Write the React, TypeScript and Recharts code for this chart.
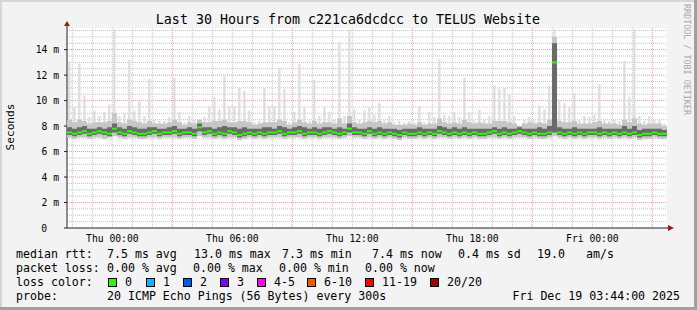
import React from 'react';
import { ComposedChart, Area, Bar, Scatter, XAxis, YAxis, CartesianGrid } from 'recharts';

// one bin = 15 minutes, starting Wed 21:44, 120 bins = 30 hours
const maxMs = [
  13.0, 9.5, 12.9, 10.4, 8.7, 9.2, 8.8, 9.1, 9.7, 15.6, 8.8, 9.0, 13.2, 9.2, 10.0, 8.8, 11.7, 8.5, 8.4, 8.4, 8.7, 11.8, 9.1, 8.3, 8.8, 8.5, 8.4, 8.7, 9.6, 10.3,
  9.3, 11.9, 9.6, 9.6, 11.0, 10.8, 9.2, 8.3, 8.4, 11.0, 9.6, 9.6, 12.6, 10.9, 8.3, 9.1, 12.9, 9.5, 8.4, 11.6, 8.8, 9.5, 9.1, 8.5, 14.6, 8.8, 15.6, 9.3, 8.5, 9.2,
  9.5, 8.9, 9.8, 8.5, 8.8, 8.3, 8.4, 8.3, 8.4, 8.3, 9.6, 8.3, 9.1, 8.7, 13.25, 8.9, 8.8, 9.1, 8.7, 11.8, 9.1, 8.4, 9.3, 8.5, 8.8, 11.2, 10.9, 11.0, 10.5, 8.8,
  8.0, 8.5, 8.7, 8.4, 9.6, 9.3, 11.2, 15.6, 10.1, 9.8, 9.5, 10.6, 8.5, 8.8, 8.7, 8.9, 11.3, 8.5, 8.4, 8.5, 8.4, 13.1, 10.3, 15.6, 8.8, 8.4, 8.8, 8.5, 8.5, 8.2,
];
const smokeHiMs = [
  8.5, 8.3, 8.5, 8.4, 8.2, 8.3, 8.3, 8.3, 8.4, 9.0, 8.3, 8.2, 8.5, 8.4, 8.3, 8.2, 8.4, 8.2, 8.2, 8.2, 8.3, 8.5, 8.3, 8.1, 8.3, 8.2, 8.5, 8.3, 8.3, 8.4,
  8.4, 8.5, 8.3, 8.3, 8.4, 8.4, 8.3, 8.1, 8.2, 8.3, 8.3, 8.3, 8.5, 8.4, 8.1, 8.3, 8.5, 8.3, 8.2, 8.4, 8.2, 8.3, 8.3, 8.2, 8.6, 8.2, 8.8, 8.3, 8.2, 8.3,
  8.4, 8.3, 8.4, 8.2, 8.3, 8.1, 8.1, 8.1, 8.2, 8.1, 8.3, 8.1, 8.2, 8.2, 8.6, 8.3, 8.2, 8.3, 8.2, 8.5, 8.3, 8.2, 8.3, 8.2, 8.2, 8.4, 8.4, 8.4, 8.3, 8.2,
  8.0, 8.2, 8.3, 8.2, 8.3, 8.2, 8.5, 15.0, 8.4, 8.3, 8.3, 8.4, 8.2, 8.2, 8.2, 8.3, 8.4, 8.2, 8.2, 8.2, 8.1, 8.5, 8.3, 8.6, 8.2, 8.1, 8.2, 8.2, 8.2, 8.0,
];
const coreHiMs = [
  7.9, 7.8, 7.9, 8.0, 7.8, 7.8, 7.9, 7.8, 7.9, 8.2, 7.9, 7.8, 8.0, 7.9, 7.8, 7.8, 7.9, 7.9, 7.8, 7.8, 7.9, 8.0, 7.8, 7.8, 7.9, 7.8, 8.2, 7.9, 7.9, 7.8,
  7.9, 8.0, 7.9, 7.9, 7.8, 7.9, 7.8, 7.8, 7.8, 7.9, 7.9, 7.8, 8.0, 7.9, 7.8, 7.9, 8.0, 7.9, 7.8, 7.9, 7.8, 7.9, 7.9, 7.8, 7.9, 7.8, 8.2, 7.9, 7.8, 7.8,
  7.9, 7.8, 7.9, 7.8, 7.8, 7.8, 7.7, 7.8, 7.8, 7.8, 7.9, 7.8, 7.8, 7.8, 8.0, 7.9, 7.8, 7.9, 7.8, 7.9, 7.8, 7.8, 7.8, 7.8, 7.8, 7.9, 7.8, 7.9, 7.8, 7.8,
  7.9, 7.8, 7.8, 7.8, 7.9, 7.8, 8.0, 14.5, 7.9, 7.8, 7.8, 7.9, 7.8, 7.8, 7.8, 7.8, 7.9, 7.8, 7.8, 7.8, 7.8, 8.0, 7.8, 8.0, 7.7, 7.8, 7.8, 7.8, 7.8, 7.7,
];
const medianMs = [
  7.5, 7.4, 7.5, 7.6, 7.4, 7.5, 7.6, 7.5, 7.4, 7.8, 7.5, 7.4, 7.6, 7.5, 7.4, 7.4, 7.5, 7.6, 7.4, 7.5, 7.5, 7.6, 7.4, 7.5, 7.5, 7.4, 7.9, 7.5, 7.6, 7.4,
  7.5, 7.4, 7.6, 7.5, 7.3, 7.4, 7.5, 7.4, 7.5, 7.4, 7.5, 7.5, 7.6, 7.4, 7.5, 7.5, 7.6, 7.4, 7.5, 7.5, 7.4, 7.5, 7.6, 7.5, 7.4, 7.5, 7.8, 7.5, 7.5, 7.4,
  7.6, 7.4, 7.5, 7.4, 7.5, 7.4, 7.3, 7.5, 7.4, 7.4, 7.5, 7.4, 7.5, 7.4, 7.6, 7.5, 7.4, 7.5, 7.4, 7.5, 7.4, 7.5, 7.4, 7.4, 7.5, 7.6, 7.4, 7.5, 7.4, 7.5,
  7.6, 7.5, 7.4, 7.5, 7.4, 7.4, 7.5, 13.0, 7.5, 7.4, 7.5, 7.4, 7.5, 7.4, 7.5, 7.5, 7.4, 7.5, 7.4, 7.5, 7.4, 7.5, 7.4, 7.5, 7.3, 7.4, 7.4, 7.5, 7.4, 7.4,
];
const coreLoMs = [
  7.3, 7.2, 7.3, 7.4, 7.2, 7.3, 7.4, 7.3, 7.2, 7.5, 7.3, 7.2, 7.4, 7.3, 7.2, 7.2, 7.3, 7.4, 7.2, 7.3, 7.3, 7.4, 7.2, 7.3, 7.3, 7.2, 7.6, 7.3, 7.4, 7.2,
  7.3, 7.2, 7.4, 7.3, 7.1, 7.2, 7.3, 7.2, 7.3, 7.2, 7.3, 7.3, 7.4, 7.2, 7.3, 7.3, 7.4, 7.2, 7.3, 7.3, 7.2, 7.3, 7.4, 7.3, 7.2, 7.3, 7.5, 7.3, 7.3, 7.2,
  7.4, 7.2, 7.3, 7.2, 7.3, 7.2, 7.1, 7.3, 7.2, 7.2, 7.3, 7.2, 7.3, 7.2, 7.4, 7.3, 7.2, 7.3, 7.2, 7.3, 7.2, 7.3, 7.2, 7.2, 7.3, 7.4, 7.2, 7.3, 7.2, 7.3,
  7.4, 7.3, 7.2, 7.3, 7.2, 7.2, 7.3, 7.5, 7.3, 7.2, 7.3, 7.2, 7.3, 7.2, 7.3, 7.3, 7.2, 7.3, 7.2, 7.3, 7.2, 7.3, 7.2, 7.3, 7.1, 7.2, 7.2, 7.3, 7.2, 7.2,
];
const minMs = [
  7.1, 7.0, 7.1, 7.1, 7.0, 7.1, 7.1, 7.0, 7.1, 7.2, 7.1, 7.0, 7.1, 7.1, 7.0, 7.0, 7.1, 7.1, 7.0, 7.1, 7.1, 7.1, 7.0, 7.1, 7.1, 7.0, 7.2, 7.1, 7.1, 7.0,
  7.1, 7.0, 7.1, 7.1, 6.9, 7.0, 7.1, 7.0, 7.1, 7.0, 7.1, 7.1, 7.1, 7.0, 7.1, 7.1, 7.1, 7.0, 7.1, 7.1, 7.0, 7.1, 7.1, 7.1, 7.0, 7.1, 7.2, 7.1, 7.1, 7.0,
  7.1, 7.0, 7.1, 7.0, 7.1, 7.0, 6.9, 7.1, 7.0, 7.0, 7.1, 7.0, 7.1, 7.0, 7.1, 7.1, 7.0, 7.1, 7.0, 7.1, 7.0, 7.1, 7.0, 7.0, 7.1, 7.1, 7.0, 7.1, 7.0, 7.1,
  7.1, 7.1, 7.0, 7.1, 7.0, 7.0, 7.1, 7.2, 7.1, 7.0, 7.1, 7.0, 7.1, 7.0, 7.1, 7.1, 7.0, 7.1, 7.0, 7.1, 7.0, 7.1, 7.0, 7.1, 6.9, 7.0, 7.0, 7.1, 7.0, 7.0,
];

const xTickLabels = ['Thu 00:00', 'Thu 06:00', 'Thu 12:00', 'Thu 18:00', 'Fri 00:00'];
const yTicks = [0, 2, 4, 6, 8, 10, 12, 14];

const lossLabels = ['0', '1', '2', '3', '4-5', '6-10', '11-19', '20/20'];
const lossColors = ['#26ff00', '#00b8ff', '#0059ff', '#7e00ff', '#ff00ff', '#ff5500', '#ff0000', '#a10000'];

const W = 697;
const H = 310;
const PLOT_LEFT = 67;
const PLOT_TOP = 28;
const PLOT_RIGHT = 667;
const PLOT_BOTTOM = 228;
const Y_MAX = 15.7;
const BIN_H = 0.25;
const BIN_PX = 5;
const FONT = '"DejaVu Sans Mono", "Liberation Mono", monospace';

// start of graph is Wed 21:44, so full hours sit 16 minutes in
const FIRST_HOUR = 16 / 60;
const xTickHours = [2, 8, 14, 20, 26].map((h) => h + FIRST_HOUR);
const hourLines = Array.from({ length: 30 }, (_, k) => k + FIRST_HOUR);
const xMajor = hourLines.filter((_, k) => k % 6 === 5);
const xMinor = hourLines.filter((_, k) => k % 6 !== 5);
const yAll = Array.from({ length: 31 }, (_, k) => k * 0.5 + 0.5);
const yMajor = yAll.filter((v) => v % 2 === 0);
const yMinor = yAll.filter((v) => v % 2 !== 0);

const binRows = maxMs.map((_, i) => ({
  t: i * BIN_H + BIN_H / 2,
  light: [minMs[i], maxMs[i]] as number[] | null,
  smoke: [minMs[i], smokeHiMs[i]],
  core: [coreLoMs[i], coreHiMs[i]],
  median: medianMs[i] as number | null,
}));
// edge rows so the step areas reach both ends of the plot
const first = binRows[0];
const last = binRows[binRows.length - 1];
const rows = [
  { ...first, t: 0, light: null, median: null },
  ...binRows,
  { ...last, t: 30, light: null, median: null },
];

const chartMargin = { top: PLOT_TOP, right: W - PLOT_RIGHT, bottom: 52, left: PLOT_LEFT - 60 };
const overMargin = { top: PLOT_TOP, right: W - PLOT_RIGHT, bottom: H - PLOT_BOTTOM, left: PLOT_LEFT };

const YTick = ({ y, payload }: any) => {
  const v = payload.value;
  return (
    <g>
      <line x1={PLOT_LEFT - 3} x2={PLOT_LEFT} y1={y} y2={y} stroke="#222" />
      <text
        x={v === 0 ? PLOT_LEFT - 20 : PLOT_LEFT - 8}
        y={y + 3.5}
        textAnchor="end"
        fontFamily={FONT}
        fontSize={9.7}
        fill="#000"
      >
        {v === 0 ? '0' : `${v} m`}
      </text>
    </g>
  );
};

const XTick = ({ x, payload }: any) => {
  const idx = xTickHours.findIndex((h) => Math.abs(h - payload.value) < 0.01);
  return (
    <text x={x} y={241.5} textAnchor="middle" fontFamily={FONT} fontSize={9.7} fill="#000">
      {xTickLabels[idx]}
    </text>
  );
};

// smokeping draws the median as a short flat dash per step
const MedianDash = (props: any) => {
  const { cx, cy } = props;
  if (cx == null || cy == null || props.payload?.median == null) return <g />;
  return <rect x={cx - BIN_PX / 2} y={cy - 1} width={BIN_PX} height={2} fill="#26ff00" />;
};

const legendText = (x: number, y: number, s: string, anchor = 'start') => (
  <text key={`${x}-${y}`} x={x} y={y} textAnchor={anchor as any} fontFamily={FONT} fontSize={11.6} fill="#000">
    {s}
  </text>
);

const swatchX = [108, 146, 183, 220, 257, 307, 365, 430];

export default function App() {
  return (
    <div style={{ position: 'absolute', left: 0, top: 0, width: W, height: H, background: '#f3f3f3' }}>
      {/* bottom layer: canvas, grid, axes and the outer smoke spikes */}
      <ComposedChart width={W} height={H} data={rows} margin={chartMargin}>
        <CartesianGrid
          fill="#ffffff"
          stroke="#c4c4c4"
          strokeDasharray="1 1"
          horizontalValues={yMinor}
          verticalValues={xMinor}
        />
        <CartesianGrid
          stroke="#f09a9a"
          strokeDasharray="1 1"
          horizontalValues={yMajor}
          verticalValues={xMajor}
        />
        <XAxis
          dataKey="t"
          type="number"
          domain={[0, 30]}
          ticks={xTickHours}
          interval={0}
          height={30}
          allowDataOverflow
          axisLine={{ stroke: '#222' }}
          tickLine={false}
          tick={XTick}
        />
        <YAxis
          type="number"
          domain={[0, Y_MAX]}
          ticks={yTicks}
          interval={0}
          width={60}
          allowDataOverflow
          axisLine={{ stroke: '#222' }}
          tickLine={false}
          tick={YTick}
        />
        <Bar dataKey="light" barSize={3} fill="#dddddd" isAnimationActive={false} />
      </ComposedChart>

      {/* top layer: inner smoke and median, same scales */}
      <div style={{ position: 'absolute', left: 0, top: 0 }}>
        <ComposedChart width={W} height={H} data={rows} margin={overMargin}>
          <XAxis dataKey="t" type="number" domain={[0, 30]} hide allowDataOverflow />
          <YAxis type="number" domain={[0, Y_MAX]} hide allowDataOverflow />
          <Area type="step" dataKey="smoke" stroke="none" fill="#c6c6c6" fillOpacity={1} isAnimationActive={false} dot={false} activeDot={false} />
          <Area type="step" dataKey="core" stroke="none" fill="#6a6a6a" fillOpacity={1} isAnimationActive={false} dot={false} activeDot={false} />
          <Scatter dataKey="median" shape={MedianDash} isAnimationActive={false} />
        </ComposedChart>
      </div>

      <svg width={W} height={H} style={{ position: 'absolute', left: 0, top: 0, pointerEvents: 'none' }}>
        {/* frame */}
        <rect x={0} y={0} width={W} height={2} fill="#d6d6d6" />
        <rect x={0} y={0} width={2} height={H} fill="#d6d6d6" />
        <rect x={W - 3} y={0} width={3} height={H} fill="#a0a0a0" />
        <rect x={0} y={H - 3} width={W} height={3} fill="#a0a0a0" />

        {/* axis arrows */}
        <line x1={PLOT_LEFT} x2={PLOT_LEFT} y1={PLOT_TOP} y2={24} stroke="#222" />
        <polygon points="64,26 70,26 67,21" fill="#9e1b1b" />
        <line x1={PLOT_RIGHT} x2={669} y1={PLOT_BOTTOM} y2={PLOT_BOTTOM} stroke="#222" />
        <polygon points="668,225 668,231 674,228" fill="#9e1b1b" />

        <text x={348} y={24} textAnchor="middle" fontFamily={FONT} fontSize={13.3} fill="#000">
          Last 30 Hours from c221ca6dcdcc to TELUS Website
        </text>
        <text
          transform="translate(13.5,127) rotate(-90)"
          textAnchor="middle"
          fontFamily={FONT}
          fontSize={11.2}
          fill="#000"
        >
          Seconds
        </text>
        <text transform="translate(684,4) rotate(90)" fontFamily={FONT} fontSize={8.4} fill="#a8a8a8">
          RRDTOOL / TOBI OETIKER
        </text>

        {legendText(16, 257.5, 'median rtt:')}
        {legendText(107, 257.5, '7.5 ms avg')}
        {legendText(194, 257.5, '13.0 ms max')}
        {legendText(282, 257.5, '7.3 ms min')}
        {legendText(372, 257.5, '7.4 ms now')}
        {legendText(458, 257.5, '0.4 ms sd')}
        {legendText(537, 257.5, '19.0')}
        {legendText(586, 257.5, 'am/s')}

        {legendText(16, 271.7, 'packet loss:')}
        {legendText(107, 271.7, '0.00 % avg')}
        {legendText(193, 271.7, '0.00 % max')}
        {legendText(279, 271.7, '0.00 % min')}
        {legendText(365, 271.7, '0.00 % now')}

        {legendText(16, 286, 'loss color:')}
        {lossLabels.map((lab, i) => (
          <g key={lab}>
            <rect x={swatchX[i] + 0.5} y={278.5} width={8} height={8} fill={lossColors[i]} stroke="#000" />
            {legendText(swatchX[i] + 17, 286, lab)}
          </g>
        ))}

        {legendText(16, 300, 'probe:')}
        {legendText(107, 300, '20 ICMP Echo Pings (56 Bytes) every 300s')}
        {legendText(680, 300, 'Fri Dec 19 03:44:00 2025', 'end')}
      </svg>
    </div>
  );
}
